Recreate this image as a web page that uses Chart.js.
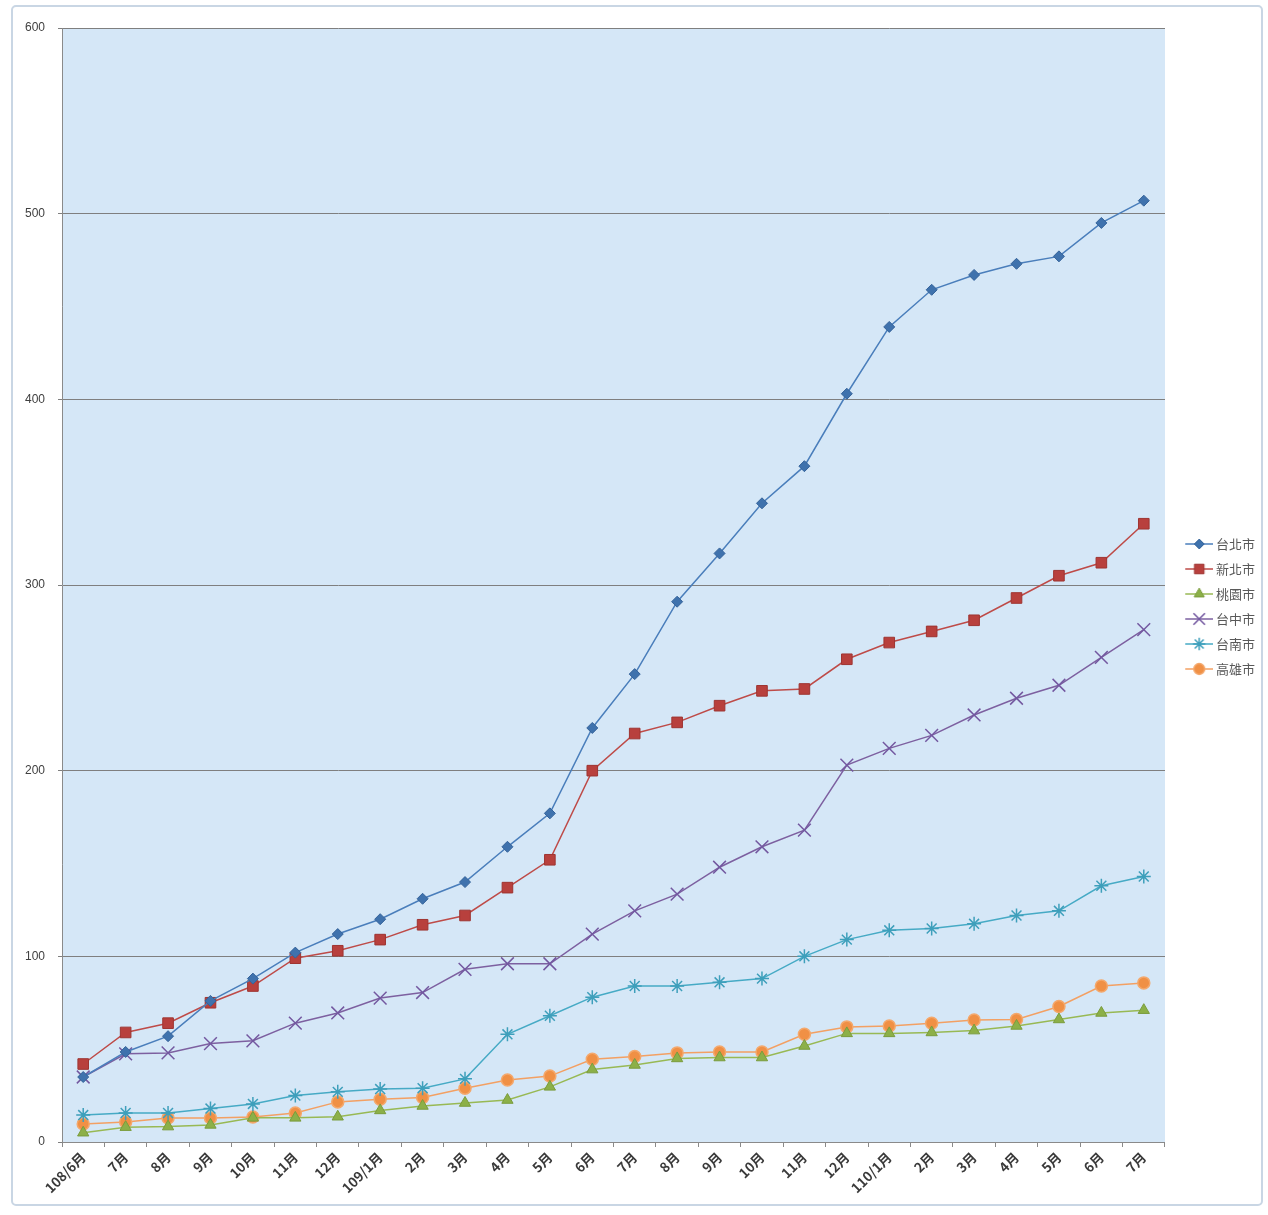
<!DOCTYPE html>
<html>
<head>
<meta charset="utf-8">
<script src="https://cdn.jsdelivr.net/npm/chart.js@4.4.0/dist/chart.umd.min.js"></script>
<style>
  html, body { margin: 0; padding: 0; background: #ffffff; }
  #wrap { position: relative; width: 1268px; height: 1215px; overflow: hidden; background: #ffffff; }
  #frame { position: absolute; left: 11px; top: 5px; width: 1252px; height: 1201px;
           border: 2px solid #c9d6e4; border-radius: 5px; box-sizing: border-box; }
  canvas { position: absolute; left: 0; top: 0; }
</style>
</head>
<body>
<div id="wrap">
  <div id="frame"></div>
  <canvas id="c" width="1268" height="1215"></canvas>
</div>
<script>
const categories = ['108/6月','7月','8月','9月','10月','11月','12月','109/1月','2月','3月','4月','5月','6月',
                    '7月','8月','9月','10月','11月','12月','110/1月','2月','3月','4月','5月','6月','7月'];
const seriesNames = ['台北市','新北市','桃園市','台中市','台南市','高雄市'];
const taipei    = [35, 48.5, 57, 76, 88, 102, 112, 120, 131, 140, 159, 177, 223, 252, 291, 317, 344, 364, 403, 439, 459, 467, 473, 477, 495, 507];
const newTaipei = [42, 59, 64, 75, 84, 99, 103, 109, 117, 122, 137, 152, 200, 220, 226, 235, 243, 244, 260, 269, 275, 281, 293, 305, 312, 333];
const taoyuan   = [5, 8, 8.3, 9.2, 13, 13, 13.6, 17, 19.4, 21, 22.6, 29.7, 39, 41.5, 45, 45.5, 45.5, 51.7, 58.5, 58.5, 59, 60, 62.5, 66, 69.5, 71];
const taichung  = [35, 47.5, 48, 53, 54.5, 64, 69.5, 77.5, 80.5, 93, 96, 96, 112, 124.5, 133.5, 148, 159, 168, 203, 212, 219, 230, 239, 246, 261, 276];
const tainan    = [14.5, 15.6, 15.6, 18, 20.5, 25, 27, 28.5, 29, 34, 58, 68, 78, 84, 84, 86, 88, 100, 109, 114, 115, 117.5, 122, 124.5, 138, 143];
const kaohsiung = [9.7, 10.8, 12.9, 12.9, 13.5, 15.6, 21.6, 23, 24, 29, 33.4, 35.5, 44.6, 46, 48, 48.5, 48.5, 58, 62, 62.5, 64, 65.7, 66, 73, 84, 85.7];
const yTicks = [0, 100, 200, 300, 400, 500, 600];

const styles = [
  { line: '#4a7ebb', fill: '#3f72ad', border: '#35639a', point: 'rectRot', r: 5.5, bw: 1 },
  { line: '#be4b48', fill: '#b8403d', border: '#9e3431', point: 'rect', r: 7.5, bw: 1 },
  { line: '#98b954', fill: '#8cb048', border: '#7a9c3c', point: 'triangle', r: 6.5, bw: 1 },
  { line: '#7d60a0', fill: 'rgba(0,0,0,0)', border: '#7358a0', point: 'crossRot', r: 9, bw: 1.5 },
  { line: '#46aac5', fill: 'rgba(0,0,0,0)', border: '#3e9fbb', point: 'star', r: 7, bw: 1.5 },
  { line: '#f3a063', fill: '#f09045', border: '#f4a86c', point: 'circle', r: 6, bw: 1.5 }
];
const seriesData = [taipei, newTaipei, taoyuan, taichung, tainan, kaohsiung];

function legendImage(s) {
  const cv = document.createElement('canvas');
  cv.width = 40; cv.height = 18;
  const ctx = cv.getContext('2d');
  ctx.strokeStyle = s.line; ctx.lineWidth = 1.5;
  ctx.beginPath(); ctx.moveTo(12, 9); ctx.lineTo(40, 9); ctx.stroke();
  ctx.fillStyle = s.fill; ctx.strokeStyle = s.border; ctx.lineWidth = s.bw;
  if (Chart.helpers && Chart.helpers.drawPoint) {
    Chart.helpers.drawPoint(ctx, { pointStyle: s.point, radius: s.r * 0.9, rotation: 0, borderWidth: s.bw }, 26, 9);
  } else {
    ctx.beginPath(); ctx.arc(26, 9, 4, 0, Math.PI * 2); ctx.fill();
  }
  return cv;
}

const datasets = seriesNames.map((name, i) => ({
  label: name,
  data: seriesData[i],
  borderColor: styles[i].line,
  borderWidth: 1.5,
  backgroundColor: styles[i].fill,
  pointStyle: styles[i].point,
  pointRadius: styles[i].r,
  pointBackgroundColor: styles[i].fill,
  pointBorderColor: styles[i].border,
  pointBorderWidth: styles[i].bw,
  tension: 0,
  fill: false
}));

const plotBg = {
  id: 'plotBg',
  beforeDraw(chart) {
    const a = chart.chartArea, ctx = chart.ctx;
    ctx.save();
    ctx.fillStyle = '#d5e7f7';
    ctx.fillRect(a.left, a.top, a.right - a.left, a.bottom - a.top);
    ctx.restore();
  }
};

new Chart(document.getElementById('c'), {
  type: 'line',
  data: { labels: categories, datasets },
  plugins: [plotBg],
  options: {
    responsive: false,
    animation: false,
    devicePixelRatio: 1,
    layout: { padding: { left: 0, top: 28, right: 3, bottom: 0 } },
    scales: {
      x: {
        offset: true,
        grid: { display: true, offset: true, drawOnChartArea: false, drawTicks: true, tickLength: 5, color: '#8a8a8a' },
        border: { display: true, color: '#8a8a8a', width: 1 },
        ticks: { autoSkip: false, minRotation: 45, maxRotation: 45, padding: 2, color: '#3a3a3a',
                 font: { family: '"Noto Sans CJK TC", "Noto Sans", sans-serif', size: 13.5, weight: 'bold' } },
        afterFit(scale) { scale.height = 73; }
      },
      y: {
        min: 0, max: 600,
        afterBuildTicks(scale) { scale.ticks = yTicks.map(v => ({ value: v })); },
        grid: { color: '#7f7f7f', lineWidth: 1, drawTicks: true, tickLength: 4 },
        border: { display: true, color: '#8a8a8a', width: 1 },
        ticks: { padding: 13, color: '#404040',
                 font: { family: '"Liberation Sans", Arial, sans-serif', size: 12 } },
        afterFit(scale) { scale.width = 62; }
      }
    },
    plugins: {
      tooltip: { enabled: false },
      legend: {
        display: true,
        position: 'right',
        align: 'start',
        title: { display: true, text: ' ', font: { size: 12, lineHeight: 1.2 }, padding: { top: 483.1, bottom: 0 } },
        labels: {
          usePointStyle: true,
          pointStyleWidth: 32.5,
          padding: 12,
          color: '#595959',
          font: { family: '"Noto Sans CJK TC", sans-serif', size: 13 },
          generateLabels(chart) {
            const items = Chart.defaults.plugins.legend.labels.generateLabels(chart);
            return items.map((it, i) => Object.assign(it, { pointStyle: legendImage(styles[i]), fontColor: '#595959' }));
          }
        }
      }
    }
  }
});
</script>
</body>
</html>
